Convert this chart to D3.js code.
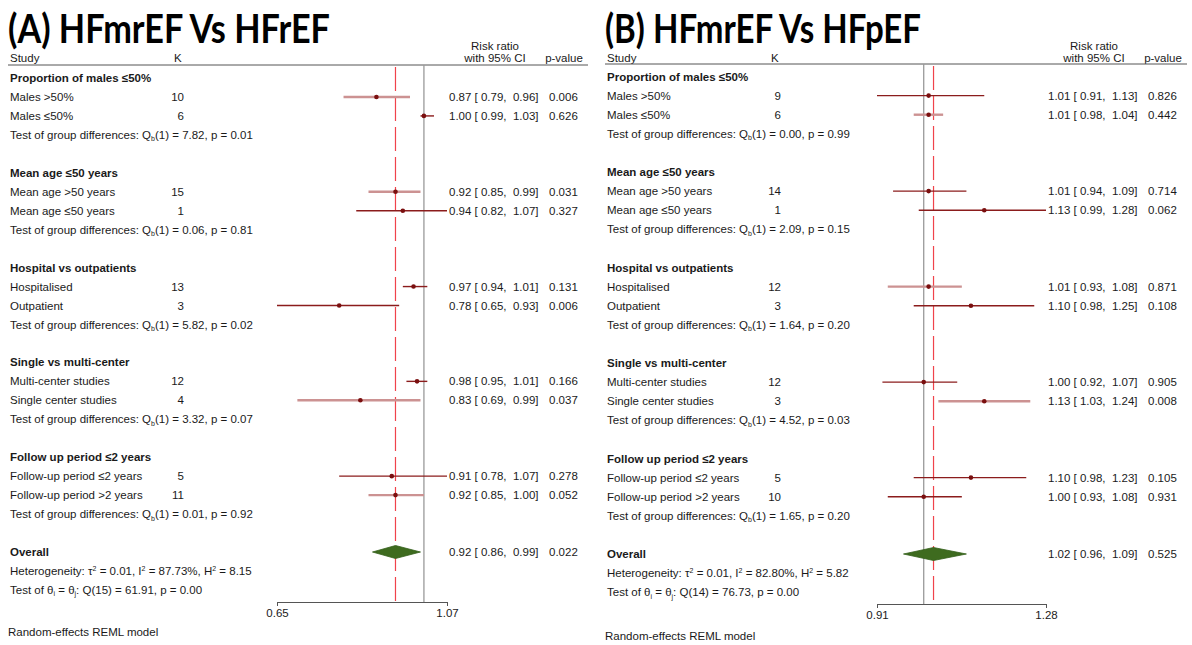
<!DOCTYPE html>
<html>
<head>
<meta charset="utf-8">
<script src="https://cdn.jsdelivr.net/npm/d3@7"></script>
<style>
  html, body { margin: 0; padding: 0; background: #fff; }
  svg { display: block; }
  text { font-family: "Liberation Sans", Arial, sans-serif; font-size: 11.5px; fill: #1a1a1a; white-space: pre; }
  text.title { font-family: Lato, "Open Sans", sans-serif; font-weight: 700; font-size: 40px; fill: #000; }
  .bold { font-weight: bold; }
</style>
</head>
<body>
<script>
// ---------- Subgroup definitions (shared by both panels) ----------
const groupNames = [
  "Proportion of males ≤50%",
  "Mean age ≤50 years",
  "Hospital vs outpatients",
  "Single vs multi-center",
  "Follow up period ≤2 years"
];
const subgroupLabels = [
  "Males >50%", "Males ≤50%",
  "Mean age >50 years", "Mean age ≤50 years",
  "Hospitalised", "Outpatient",
  "Multi-center studies", "Single center studies",
  "Follow-up period ≤2 years", "Follow-up period >2 years"
];

// ---------- Panel A: HFmrEF vs HFrEF ----------
const kA   = [10, 6, 15, 1, 13, 3, 12, 4, 5, 11];
const rrA  = [0.87, 1.00, 0.92, 0.94, 0.97, 0.78, 0.98, 0.83, 0.91, 0.92];
const loA  = [0.79, 0.99, 0.85, 0.82, 0.94, 0.65, 0.95, 0.69, 0.78, 0.85];
const hiA  = [0.96, 1.03, 0.99, 1.07, 1.01, 0.93, 1.01, 0.99, 1.07, 1.00];
const pA   = ["0.006", "0.626", "0.031", "0.327", "0.131", "0.006", "0.166", "0.037", "0.278", "0.052"];
const qbA  = ["7.82", "0.06", "5.82", "3.32", "0.01"];
const qbPA = ["0.01", "0.81", "0.02", "0.07", "0.92"];
const overallA = [0.92, 0.86, 0.99];
const overallPA = "0.022";
const hetA = ["0.01", "87.73%", "8.15"];
const qTestA = ["15", "61.91", "0.00"];
const ticksA = [0.65, 1.07];

// ---------- Panel B: HFmrEF vs HFpEF ----------
const kB   = [9, 6, 14, 1, 12, 3, 12, 3, 5, 10];
const rrB  = [1.01, 1.01, 1.01, 1.13, 1.01, 1.10, 1.00, 1.13, 1.10, 1.00];
const loB  = [0.91, 0.98, 0.94, 0.99, 0.93, 0.98, 0.92, 1.03, 0.98, 0.93];
const hiB  = [1.13, 1.04, 1.09, 1.28, 1.08, 1.25, 1.07, 1.24, 1.23, 1.08];
const pB   = ["0.826", "0.442", "0.714", "0.062", "0.871", "0.108", "0.905", "0.008", "0.105", "0.931"];
const qbB  = ["0.00", "2.09", "1.64", "4.52", "1.65"];
const qbPB = ["0.99", "0.15", "0.20", "0.03", "0.20"];
const overallB = [1.02, 0.96, 1.09];
const overallPB = "0.525";
const hetB = ["0.01", "82.80%", "5.82"];
const qTestB = ["14", "76.73", "0.00"];
const ticksB = [0.91, 1.28];

// ---------- Drawing ----------
const W = 1192, H = 645;
const svg = d3.select("body").append("svg").attr("width", W).attr("height", H);

const f2 = d3.format(".2f");
const f2pad = v => (v < 10 ? " " : "") + f2(v);
const ciText = (r, l, h) => `${f2(r)} [${f2pad(l)},  ${f2(h)}]`;

function drawPanel(o) {
  const g = svg.append("g");

  // title
  g.append("text").attr("class", "title")
    .attr("x", o.x0 - 2).attr("y", 43)
    .attr("textLength", o.titleLen).attr("lengthAdjust", "spacingAndGlyphs")
    .text(o.title);

  const x = d3.scaleLog().domain(d3.extent(o.ticks)).range([o.axL, o.axR]);
  const y = d3.scaleLinear().domain([0, 27]).range([o.top, o.top + 27 * o.pitch]);

  const colEst = o.axR + 2;
  const colP = o.axR + 102;

  // column headers
  g.append("text").attr("x", o.x0).attr("y", 58).attr("dy", "0.35em").text("Study");
  g.append("text").attr("x", o.x0 + 164).attr("y", 58).attr("dy", "0.35em").text("K");
  g.append("text").attr("x", o.axR + 48).attr("y", 46).attr("dy", "0.35em").attr("text-anchor", "middle").text("Risk ratio");
  g.append("text").attr("x", o.axR + 48).attr("y", 58).attr("dy", "0.35em").attr("text-anchor", "middle").text("with 95% CI");
  g.append("text").attr("x", o.axR + 117).attr("y", 58).attr("dy", "0.35em").attr("text-anchor", "middle").text("p-value");
  g.append("line")
    .attr("x1", o.x0 - 2).attr("x2", o.axR + 141)
    .attr("y1", o.ruleY).attr("y2", o.ruleY)
    .attr("stroke", "#555").attr("stroke-width", 1);

  // null line at 1 and dashed overall line
  g.append("line")
    .attr("x1", x(1)).attr("x2", x(1))
    .attr("y1", o.ruleY).attr("y2", o.axisY)
    .attr("stroke", "#9a9a9a").attr("stroke-width", 1.3);
  g.append("line")
    .attr("x1", x(o.overall[0])).attr("x2", x(o.overall[0]))
    .attr("y1", o.ruleY + 2).attr("y2", o.axisY)
    .attr("stroke", "#f0434b").attr("stroke-width", 1.2)
    .attr("stroke-dasharray", "24,6");

  // subgroup blocks
  groupNames.forEach((name, gi) => {
    const base = gi * 5;
    g.append("text").attr("class", "bold")
      .attr("x", o.x0).attr("y", y(base)).attr("dy", "0.35em").text(name);

    [0, 1].forEach(j => {
      const i = gi * 2 + j;
      const yy = y(base + 1 + j);
      g.append("text").attr("x", o.x0).attr("y", yy).attr("dy", "0.35em").text(subgroupLabels[i]);
      g.append("text").attr("x", o.x0 + 174).attr("y", yy).attr("dy", "0.35em")
        .attr("text-anchor", "end").text(o.k[i]);
      const faint = o.faint.includes(i);
      g.append("line")
        .attr("x1", x(o.lo[i])).attr("x2", x(o.hi[i]))
        .attr("y1", yy).attr("y2", yy)
        .attr("stroke", faint ? "#cc9292" : "#8b1c1c")
        .attr("stroke-width", faint ? 2.4 : 1.4);
      g.append("circle")
        .attr("cx", x(o.rr[i])).attr("cy", yy).attr("r", 2.3)
        .attr("fill", "#7a0f0f");
      g.append("text").attr("x", colEst).attr("y", yy).attr("dy", "0.35em")
        .text(ciText(o.rr[i], o.lo[i], o.hi[i]));
      g.append("text").attr("x", colP).attr("y", yy).attr("dy", "0.35em").text(o.p[i]);
    });

    const t = g.append("text").attr("x", o.x0).attr("y", y(base + 3)).attr("dy", "0.35em");
    t.append("tspan").text("Test of group differences: Q");
    t.append("tspan").attr("font-size", 7).attr("dy", 2.5).text("b");
    t.append("tspan").attr("dy", -2.5).text(`(1) = ${o.qb[gi]}, p = ${o.qbP[gi]}`);
  });

  // overall effect
  const yo = y(25);
  g.append("text").attr("class", "bold").attr("x", o.x0).attr("y", yo).attr("dy", "0.35em").text("Overall");
  const [m, l, h] = o.overall;
  g.append("path")
    .attr("d", `M${x(l)},${yo} L${x(m)},${yo - 6.5} L${x(h)},${yo} L${x(m)},${yo + 6.5} Z`)
    .attr("fill", "#3e6b1f").attr("stroke", "#34601a").attr("stroke-width", 0.8);
  g.append("text").attr("x", colEst).attr("y", yo).attr("dy", "0.35em").text(ciText(m, l, h));
  g.append("text").attr("x", colP).attr("y", yo).attr("dy", "0.35em").text(o.overallP);

  const het = g.append("text").attr("x", o.x0).attr("y", y(26)).attr("dy", "0.35em");
  het.append("tspan").text("Heterogeneity: τ");
  het.append("tspan").attr("font-size", 7).attr("dy", -4).text("2");
  het.append("tspan").attr("dy", 4).text(` = ${o.het[0]}, I`);
  het.append("tspan").attr("font-size", 7).attr("dy", -4).text("2");
  het.append("tspan").attr("dy", 4).text(` = ${o.het[1]}, H`);
  het.append("tspan").attr("font-size", 7).attr("dy", -4).text("2");
  het.append("tspan").attr("dy", 4).text(` = ${o.het[2]}`);

  const qt = g.append("text").attr("x", o.x0).attr("y", y(27)).attr("dy", "0.35em");
  qt.append("tspan").text("Test of θ");
  qt.append("tspan").attr("font-size", 7).attr("dy", 2.5).text("i");
  qt.append("tspan").attr("dy", -2.5).text(" = θ");
  qt.append("tspan").attr("font-size", 7).attr("dy", 2.5).text("j");
  qt.append("tspan").attr("dy", -2.5).text(`: Q(${o.qTest[0]}) = ${o.qTest[1]}, p = ${o.qTest[2]}`);

  // x axis
  const ax = g.append("g").attr("transform", `translate(0,${o.axisY})`)
    .call(d3.axisBottom(x).tickValues(o.ticks).tickFormat(f2).tickSize(4).tickSizeOuter(0));
  ax.select(".domain").attr("stroke", "#555");
  ax.selectAll(".tick line").attr("stroke", "#555");
  ax.selectAll(".tick text")
    .attr("font-family", "Liberation Sans, Arial, sans-serif")
    .attr("fill", "#1a1a1a");

  g.append("text").attr("x", o.x0 - 2).attr("y", o.noteY).attr("dy", "0.35em").text("Random-effects REML model");
}

drawPanel({
  title: "(A) HFmrEF Vs HFrEF", titleLen: 322,
  x0: 10, top: 78, pitch: 18.96, ruleY: 65,
  axL: 277, axR: 447, axisY: 602, noteY: 632,
  ticks: ticksA, k: kA, rr: rrA, lo: loA, hi: hiA, p: pA,
  qb: qbA, qbP: qbPA, overall: overallA, overallP: overallPA,
  het: hetA, qTest: qTestA,
  faint: [0, 2, 7, 9]
});

drawPanel({
  title: "(B) HFmrEF Vs HFpEF", titleLen: 316,
  x0: 607, top: 76.5, pitch: 19.1, ruleY: 64,
  axL: 877, axR: 1046, axisY: 604, noteY: 636,
  ticks: ticksB, k: kB, rr: rrB, lo: loB, hi: hiB, p: pB,
  qb: qbB, qbP: qbPB, overall: overallB, overallP: overallPB,
  het: hetB, qTest: qTestB,
  faint: [1, 4, 7]
});
</script>
</body>
</html>
